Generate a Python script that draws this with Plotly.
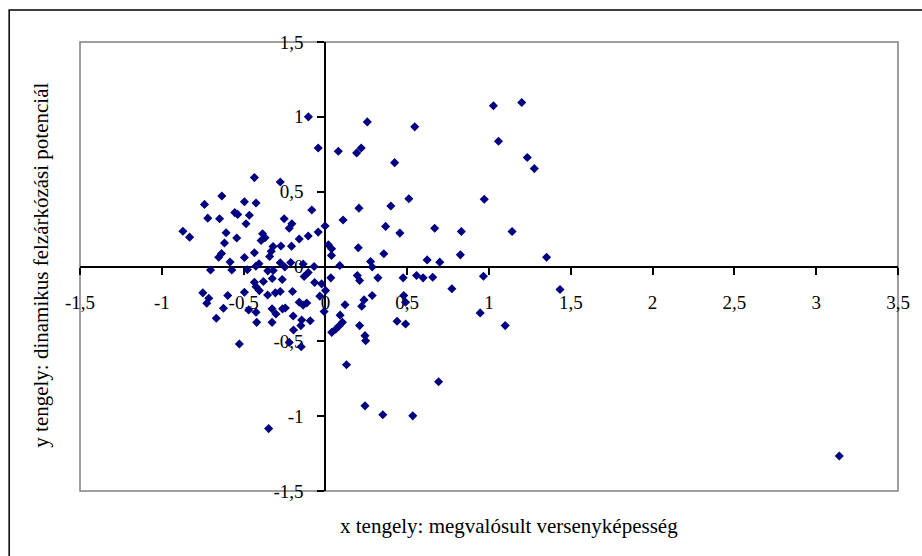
import plotly.graph_objects as go

# Data values
x_vals = [
    -0.434, -0.276, -0.739, -0.633, -0.495, -0.424, -0.719, -0.647, -0.554, -0.536,
    -0.465, -0.485, -0.083, -0.252, -0.205, -0.221, 0.108, -0.871, -0.830, -0.607,
    -0.542, -0.617, -0.384, -0.369, -0.393, -0.160, -0.105, -0.044, -0.002, 0.018,
    0.038, 0.037, 0.088, -0.272, -0.207, -0.320, -0.331, -0.341, -0.434, -0.495,
    -0.635, -0.652, -0.583, -0.572, -0.702, -0.477, -0.425, -0.406, -0.352, -0.319,
    -0.276, -0.248, -0.212, -0.130, -0.105, -0.069, -0.104, 0.256, 0.546, -0.044,
    0.079, 0.191, 0.219, 0.423, 0.205, 0.400, 0.510, 0.368, 0.455, 0.668,
    0.831, 0.201, 0.357, 0.276, 0.286, 0.622, 0.699, 0.825, 1.027, 1.200,
    1.058, 1.234, 1.277, 0.971, 1.141, 1.352, 0.966, 1.434, 0.946, 1.099,
    3.141, -0.136, -0.066, -0.023, 0.033, 0.195, 0.209, 0.321, 0.475, 0.557,
    0.597, 0.656, -0.201, 0.773, -0.034, 0.001, 0.286, 0.236, 0.222, 0.120,
    0.479, 0.490, -0.008, -0.160, -0.136, -0.114, -0.197, -0.145, -0.093, -0.150,
    -0.195, 0.090, 0.104, 0.083, 0.063, 0.039, 0.209, 0.242, 0.246, 0.438,
    0.490, -0.221, -0.148, 0.129, 0.692, 0.242, 0.351, 0.534, -0.749, -0.713,
    -0.725, -0.597, -0.623, -0.667, -0.495, -0.434, -0.424, -0.379, -0.325, -0.264,
    -0.404, -0.353, -0.306, -0.276, -0.469, -0.424, -0.326, -0.302, -0.262, -0.245,
    -0.420, -0.326, -0.526, -0.347,
]
y_vals = [
    0.594, 0.565, 0.415, 0.471, 0.433, 0.424, 0.323, 0.319, 0.360, 0.348,
    0.342, 0.286, 0.378, 0.319, 0.286, 0.256, 0.311, 0.236, 0.196, 0.226,
    0.190, 0.157, 0.219, 0.192, 0.174, 0.184, 0.204, 0.230, 0.271, 0.145,
    0.119, 0.074, 0.007, 0.137, 0.136, 0.134, 0.102, 0.067, 0.092, 0.060,
    0.087, 0.062, 0.030, -0.023, -0.023, -0.022, 0.002, 0.018, -0.029, -0.027,
    0.025, -0.003, 0.027, -0.067, -0.040, 0.000, 1.000, 0.966, 0.933, 0.792,
    0.770, 0.759, 0.792, 0.694, 0.390, 0.404, 0.453, 0.268, 0.223, 0.256,
    0.234, 0.125, 0.085, 0.033, -0.003, 0.044, 0.029, 0.078, 1.074, 1.096,
    0.837, 0.728, 0.654, 0.449, 0.234, 0.062, -0.065, -0.154, -0.310, -0.395,
    -1.266, 0.017, -0.107, -0.116, -0.076, -0.060, -0.094, -0.076, -0.076, -0.060,
    -0.076, -0.072, -0.167, -0.149, -0.198, -0.161, -0.194, -0.223, -0.266, -0.256,
    -0.194, -0.239, -0.301, -0.239, -0.258, -0.244, -0.331, -0.357, -0.362, -0.395,
    -0.424, -0.325, -0.373, -0.398, -0.419, -0.440, -0.395, -0.462, -0.496, -0.366,
    -0.384, -0.507, -0.536, -0.656, -0.770, -0.931, -0.991, -0.998, -0.176, -0.212,
    -0.246, -0.194, -0.279, -0.346, -0.172, -0.105, -0.136, -0.100, -0.080, -0.087,
    -0.161, -0.190, -0.176, -0.167, -0.290, -0.306, -0.283, -0.317, -0.283, -0.277,
    -0.373, -0.373, -0.518, -1.083,
]

x_tick_vals = [-1.5, -1, -0.5, 0, 0.5, 1, 1.5, 2, 2.5, 3, 3.5]
x_tick_text = ["-1,5", "-1", "-0,5", "0", "0,5", "1", "1,5", "2", "2,5", "3", "3,5"]
y_tick_vals = [-1.5, -1, -0.5, 0, 0.5, 1, 1.5]
y_tick_text = ["-1,5", "-1", "-0,5", "0", "0,5", "1", "1,5"]

x_title = "x tengely: megvalósult versenyképesség"
y_title = "y tengely: dinamikus felzárkózási potenciál"

FONT = "Liberation Serif"

fig = go.Figure()
fig.add_trace(go.Scatter(
    x=x_vals, y=y_vals, mode="markers",
    marker=dict(symbol="diamond", size=7, color="#000080", line=dict(width=0)),
    cliponaxis=False, hoverinfo="x+y",
))

axis_common = dict(
    showgrid=False, zeroline=False, showline=True, linecolor="black", linewidth=2,
    ticks="outside", ticklen=7, tickwidth=1.5, tickcolor="black",
    tickfont=dict(family=FONT, size=19, color="black"),
    layer="below traces", anchor="free",
)

fig.update_layout(
    width=922, height=556,
    margin=dict(l=80, r=22, t=42, b=65),
    paper_bgcolor="white", plot_bgcolor="white",
    showlegend=False,
    hovermode=False,
    xaxis=dict(range=[-1.5, 3.5], tickvals=x_tick_vals, ticktext=x_tick_text,
               position=0.5, ticklabelstandoff=12, **axis_common),
    yaxis=dict(range=[-1.5, 1.5], tickvals=y_tick_vals, ticktext=y_tick_text,
               position=0.3, ticklabelstandoff=10, **axis_common),
    shapes=[
        # plot-area border
        dict(type="rect", xref="paper", yref="paper", x0=0, x1=1, y0=0, y1=1,
             line=dict(color="#808080", width=1.5), layer="below"),
        # chart-area border (left and top edges visible)
        dict(type="rect", xref="paper", yref="paper", x0=-0.0866, x1=1.05, y0=-0.16, y1=1.0713,
             line=dict(color="black", width=1.5), layer="below"),
    ],
    annotations=[
        dict(text=x_title, xref="paper", yref="paper", x=0.524, y=-0.077,
             xanchor="center", yanchor="middle", showarrow=False,
             font=dict(family=FONT, size=21, color="black")),
        dict(text=y_title, xref="paper", yref="paper", x=-0.047, y=0.503,
             xanchor="center", yanchor="middle", showarrow=False, textangle=-90,
             font=dict(family=FONT, size=21, color="black")),
    ],
)

fig.write_html("out.html", config={"displayModeBar": False},
               post_script="document.body.style.margin='0';document.body.style.padding='0';")
